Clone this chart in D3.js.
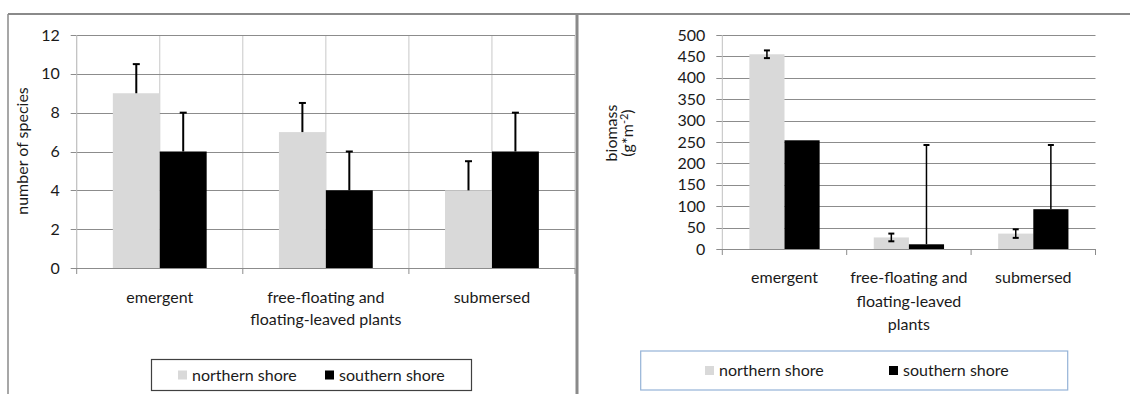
<!DOCTYPE html>
<html>
<head>
<meta charset="utf-8">
<script src="https://cdn.jsdelivr.net/npm/d3@7"></script>
<style>
body{margin:0;background:#fff;}
svg text{font-family:Lato,"Open Sans",sans-serif;}
</style>
</head>
<body>
<div id="chart"></div>
<script>
// data
var categories=["emergent","free-floating and floating-leaved plants","submersed"];
var series=["northern shore","southern shore"];
var colors=["#d9d9d9","#000000"];

var speciesNorth=[9,7,4];
var speciesNorthErr=[1.5,1.5,1.5];
var speciesSouth=[6,4,6];
var speciesSouthErr=[2,2,2];
var speciesTicks=[0,2,4,6,8,10,12];

var biomassNorth=[455,27,36];
var biomassNorthErr=[9,9,10];
var biomassSouth=[254,11,93];
var biomassSouthErr=[0,232,150];
var biomassTicks=[0,50,100,150,200,250,300,350,400,450,500];

var leftLabels=[["emergent"],["free-floating and","floating-leaved plants"],["submersed"]];
var rightLabels=[["emergent"],["free-floating and","floating-leaved","plants"],["submersed"]];

var svg=d3.select("#chart")
	.append("svg")
	.attr("width",1130)
	.attr("height",394);

// panel frame
svg.append("line").attr("x1",8).attr("y1",14).attr("x2",1130).attr("y2",14)
	.attr("stroke","#8a8a8a").attr("stroke-width",2);
svg.append("line").attr("x1",8).attr("y1",14).attr("x2",8).attr("y2",394)
	.attr("stroke","#8a8a8a").attr("stroke-width",1.5);
svg.append("line").attr("x1",577).attr("y1",14).attr("x2",577).attr("y2",394)
	.attr("stroke","#8a8a8a").attr("stroke-width",3);

function drawChart(o){
	var g=svg.append("g");
	var x0=d3.scaleBand().domain(categories).range([o.left,o.right]).padding(0);
	var x1=d3.scaleBand().domain(series).range([0,x0.bandwidth()]).paddingInner(0).paddingOuter(0.77);
	var y=d3.scaleLinear().domain([0,o.max]).range([o.bottom,o.top]);

	// vertical gridlines (left chart only)
	if(o.vgrid){
		var vx=[];
		categories.forEach(function(c){vx.push(x0(c));vx.push(x0(c)+x0.bandwidth()/2);});
		vx.push(o.right);
		g.selectAll(".vg").data(vx).enter().append("line")
			.attr("x1",function(d){return d;}).attr("x2",function(d){return d;})
			.attr("y1",o.top).attr("y2",o.bottom)
			.attr("stroke","#c8c8c8").attr("stroke-width",1);
	}
	// horizontal gridlines
	g.selectAll(".hg").data(o.ticks).enter().append("line")
		.attr("x1",o.left-6).attr("x2",o.right)
		.attr("y1",function(d){return Math.round(y(d))+0.5;})
		.attr("y2",function(d){return Math.round(y(d))+0.5;})
		.attr("stroke","#8c8c8c").attr("stroke-width",1);
	// y axis line
	g.append("line").attr("x1",o.left).attr("x2",o.left).attr("y1",o.top).attr("y2",o.bottom)
		.attr("stroke","#c0c0c0");

	// y axis labels
	var ya=g.append("g").attr("transform","translate("+(o.left-10)+",0)")
		.call(d3.axisLeft(y).tickValues(o.ticks).tickSize(0).tickPadding(7));
	ya.select(".domain").remove();
	ya.selectAll("text").attr("font-size","16px").attr("fill","#1a1a1a").style("font-family","Lato");

	// bars
	var data=[];
	categories.forEach(function(c,i){
		data.push({c:c,s:series[0],v:o.north[i],e:o.northErr[i],k:0});
		data.push({c:c,s:series[1],v:o.south[i],e:o.southErr[i],k:1});
	});
	g.selectAll(".bar").data(data).enter().append("rect")
		.attr("x",function(d){return x0(d.c)+x1(d.s);})
		.attr("y",function(d){return y(d.v);})
		.attr("width",x1.bandwidth())
		.attr("height",function(d){return o.bottom-y(d.v);})
		.attr("fill",function(d){return colors[d.k];});

	// x axis
	g.append("line").attr("x1",o.left).attr("x2",o.right).attr("y1",o.bottom+0.5).attr("y2",o.bottom+0.5)
		.attr("stroke","#8c8c8c");
	var bx=categories.map(function(c){return x0(c);}).concat([o.right]);
	g.selectAll(".xt").data(bx).enter().append("line")
		.attr("x1",function(d){return d;}).attr("x2",function(d){return d;})
		.attr("y1",o.bottom).attr("y2",o.bottom+6)
		.attr("stroke","#8c8c8c");

	// error bars
	var eb=data.filter(function(d){return d.e>0;});
	eb.forEach(function(d){
		var cx=x0(d.c)+x1(d.s)+x1.bandwidth()/2;
		var both=o.bothSides[d.k];
		var y1=y(d.v+d.e), y2=both?y(d.v-d.e):y(d.v);
		g.append("line").attr("x1",cx).attr("x2",cx).attr("y1",y1).attr("y2",y2)
			.attr("stroke","#000").attr("stroke-width",o.stem);
		g.append("line").attr("x1",cx-o.cap).attr("x2",cx+o.cap).attr("y1",y1).attr("y2",y1)
			.attr("stroke","#000").attr("stroke-width",2);
		if(both){
			g.append("line").attr("x1",cx-o.cap).attr("x2",cx+o.cap).attr("y1",y2).attr("y2",y2)
				.attr("stroke","#000").attr("stroke-width",2);
		}
	});

	// category labels
	categories.forEach(function(c,i){
		var t=g.append("text")
			.attr("x",x0(c)+x0.bandwidth()/2)
			.attr("y",o.labelY)
			.attr("text-anchor","middle")
			.attr("font-size","16px")
			.attr("fill","#1a1a1a");
		o.labels[i].forEach(function(line,j){
			t.append("tspan").attr("x",x0(c)+x0.bandwidth()/2).attr("dy",j==0?0:o.lineH).text(line);
		});
	});

	// y title
	var yt=g.append("text")
		.attr("transform","translate("+o.titleX+","+o.titleY+") rotate(-90)")
		.attr("text-anchor","middle")
		.attr("font-size","16px")
		.attr("fill","#1a1a1a");
	o.title(yt);

	// legend
	g.append("rect").attr("x",o.leg.x).attr("y",o.leg.y).attr("width",o.leg.w).attr("height",o.leg.h)
		.attr("fill","#fff").attr("stroke",o.leg.stroke).attr("stroke-width",1.2);
	series.forEach(function(s,i){
		g.append("rect").attr("x",o.leg.items[i]).attr("y",o.leg.y+o.leg.h/2-4.5)
			.attr("width",9).attr("height",9).attr("fill",colors[i]);
		g.append("text").attr("x",o.leg.items[i]+14).attr("y",o.leg.y+o.leg.h/2)
			.attr("dy","0.35em").attr("font-size","16px").attr("fill","#1a1a1a").text(s);
	});
}

drawChart({
	left:76.7,right:575,top:35,bottom:268,max:12,ticks:speciesTicks,
	north:speciesNorth,northErr:speciesNorthErr,south:speciesSouth,southErr:speciesSouthErr,
	vgrid:true,bothSides:[false,false],stem:2,cap:3.5,
	labels:leftLabels,labelY:303,lineH:22,
	titleX:28,titleY:151,
	title:function(t){t.text("number of species");},
	leg:{x:151.5,y:359.5,w:320,h:31,stroke:"#404040",items:[178,325]}
});

drawChart({
	left:722.3,right:1095.5,top:35,bottom:249,max:500,ticks:biomassTicks,
	north:biomassNorth,northErr:biomassNorthErr,south:biomassSouth,southErr:biomassSouthErr,
	vgrid:false,bothSides:[true,false],stem:1.5,cap:3,
	labels:rightLabels,labelY:283,lineH:23.5,
	titleX:617,titleY:133,
	title:function(t){
		t.append("tspan").attr("x",0).attr("dy",0).text("biomass");
		var l2=t.append("tspan").attr("x",0).attr("dy",16).text("(g*m");
		t.append("tspan").attr("dy",-5).attr("font-size","11px").text("-2");
		t.append("tspan").attr("dy",5).text(")");
	},
	leg:{x:640.7,y:351,w:427,h:39,stroke:"#95b3d7",items:[705,889]}
});
</script>
</body>
</html>
